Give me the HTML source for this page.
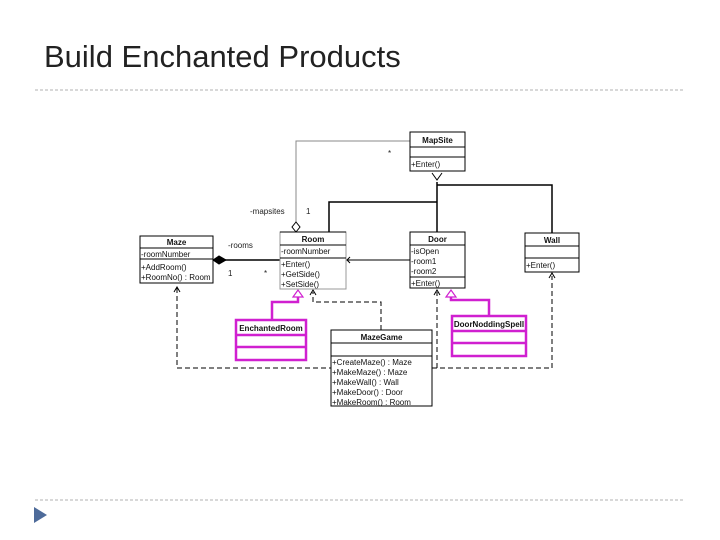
<!DOCTYPE html>
<html><head><style>
html,body{margin:0;padding:0;background:#fff;}
svg{display:block}
text{font-family:"Liberation Sans",sans-serif;}
</style></head><body>
<svg width="720" height="540" viewBox="0 0 720 540" xmlns="http://www.w3.org/2000/svg">
<text x="44" y="67" font-size="31" fill="#222">Build Enchanted Products</text>
<line x1="35" y1="90" x2="685" y2="90" stroke="#b0b0b0" stroke-dasharray="3,2"/>
<line x1="35" y1="500" x2="685" y2="500" stroke="#b0b0b0" stroke-dasharray="3,2"/>
<polygon points="34,507 34,523 47,515" fill="#4e6b9a"/>

<g stroke="#000" fill="none" stroke-width="1">
<line x1="437" y1="182" x2="437" y2="232" stroke-width="1.5"/>
<polyline points="437,185 552,185 552,233" stroke-width="1.5"/>
<polyline points="437,202 329,202 329,232" stroke-width="1.5"/>
<polyline points="432,173 437,180 442,173" fill="none"/>
<polyline points="410,141 296,141 296,222" stroke="#888"/>
<polygon points="296,222 300,227 296,232 292,227" fill="#fff"/>
<line x1="225" y1="260" x2="280" y2="260" stroke-width="1.5"/>
<polygon points="213,260 219,256 226,260 219,264" fill="#000"/>
<line x1="346" y1="260" x2="410" y2="260"/>
<polyline points="350,257 347,260 350,263"/>
<g stroke-dasharray="5,3">
<polyline points="177,288 177,368 331,368"/>
<polyline points="432,368 552,368 552,276"/>
<polyline points="437,368 437,292"/>
<polyline points="381,330 381,302 313,302 313,292"/>
</g>
<polyline points="174,292 177,287 180,292"/>
<polyline points="549,278 552,273 555,278"/>
<polyline points="434,295 437,290 440,295"/>
<polyline points="310,295 313,290 316,295"/>
</g>
<g stroke="#d020d0" fill="none" stroke-width="2.5">
<polyline points="272,320 272,302 298,302 298,296"/>
<polyline points="489,316 489,300 451,300 451,296"/>
</g>
<polygon points="293,297 298,290 303,297" fill="#fff" stroke="#d020d0" stroke-width="1.2"/>
<polygon points="446,297 451,290 456,297" fill="#fff" stroke="#d020d0" stroke-width="1.2"/>

<g font-size="8" fill="#222">
<text x="388" y="156">*</text>
<text x="250" y="214">-mapsites</text>
<text x="306" y="214">1</text>
<text x="228" y="248">-rooms</text>
<text x="228" y="276">1</text>
<text x="264" y="276">*</text>
</g>

<g stroke="#000" fill="#fff" stroke-width="1">
<rect x="410" y="132" width="55" height="39"/>
<line x1="410" y1="147" x2="465" y2="147"/><line x1="410" y1="157" x2="465" y2="157"/>
<rect x="280" y="232" width="66" height="57" stroke="#999"/>
<line x1="280" y1="245" x2="346" y2="245"/><line x1="280" y1="258" x2="346" y2="258"/>
<line x1="280" y1="232" x2="346" y2="232"/>
<rect x="410" y="232" width="55" height="56"/>
<line x1="410" y1="245" x2="465" y2="245"/><line x1="410" y1="277" x2="465" y2="277"/>
<rect x="525" y="233" width="54" height="39"/>
<line x1="525" y1="246" x2="579" y2="246"/><line x1="525" y1="258" x2="579" y2="258"/>
<rect x="140" y="236" width="73" height="47"/>
<line x1="140" y1="248" x2="213" y2="248"/><line x1="140" y1="259" x2="213" y2="259"/>
<rect x="331" y="330" width="101" height="76"/>
<line x1="331" y1="343" x2="432" y2="343"/><line x1="331" y1="356" x2="432" y2="356"/>
</g>
<g stroke="#d020d0" fill="#fff" stroke-width="2.5">
<rect x="236" y="320" width="70" height="40"/>
<line x1="236" y1="335" x2="306" y2="335"/><line x1="236" y1="347" x2="306" y2="347"/>
<rect x="452" y="316" width="74" height="40"/>
<line x1="452" y1="331" x2="526" y2="331"/><line x1="452" y1="343" x2="526" y2="343"/>
</g>
<g font-size="8" fill="#111">
<text x="437.5" y="143" text-anchor="middle" font-weight="bold">MapSite</text>
<text x="411" y="167">+Enter()</text>
<text x="313" y="242" text-anchor="middle" font-weight="bold">Room</text>
<text x="281" y="254">-roomNumber</text>
<text x="281" y="267">+Enter()</text>
<text x="281" y="277">+GetSide()</text>
<text x="281" y="287">+SetSide()</text>
<text x="437.5" y="242" text-anchor="middle" font-weight="bold">Door</text>
<text x="411" y="254">-isOpen</text>
<text x="411" y="264">-room1</text>
<text x="411" y="274">-room2</text>
<text x="411" y="286">+Enter()</text>
<text x="552" y="243" text-anchor="middle" font-weight="bold">Wall</text>
<text x="526" y="268">+Enter()</text>
<text x="176.5" y="245" text-anchor="middle" font-weight="bold">Maze</text>
<text x="141" y="257">-roomNumber</text>
<text x="141" y="270">+AddRoom()</text>
<text x="141" y="280">+RoomNo() : Room</text>
<text x="381.5" y="340" text-anchor="middle" font-weight="bold">MazeGame</text>
<text x="332" y="365">+CreateMaze() : Maze</text>
<text x="332" y="375">+MakeMaze() : Maze</text>
<text x="332" y="385">+MakeWall() : Wall</text>
<text x="332" y="395">+MakeDoor() : Door</text>
<text x="332" y="405">+MakeRoom() : Room</text>
<text x="271" y="331" text-anchor="middle" font-weight="bold">EnchantedRoom</text>
<text x="489" y="327" text-anchor="middle" font-weight="bold">DoorNoddingSpell</text>
</g>
</svg>
</body></html>
